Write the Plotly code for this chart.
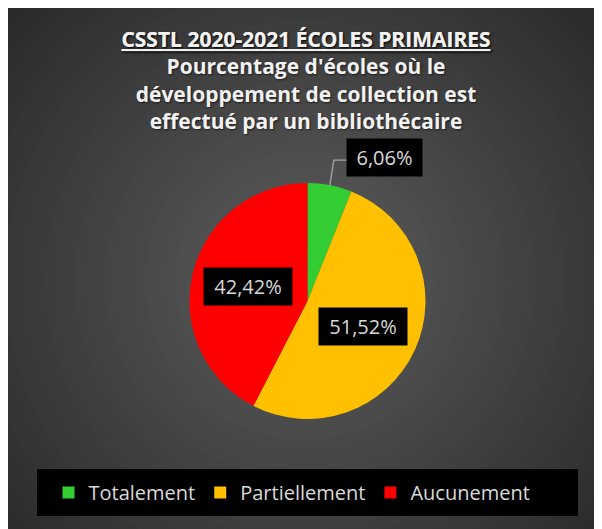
import math
import plotly.graph_objects as go

# data
labels = ['Totalement', 'Partiellement', 'Aucunement']
pourcentages = [6.06, 51.52, 42.42]
couleurs = ['#33CC33', '#FFC000', '#FF0000']
titre = ("<u>CSSTL 2020-2021 ÉCOLES PRIMAIRES</u><br>"
         "Pourcentage d'écoles où le<br>"
         "développement de collection est<br>"
         "effectué par un bibliothécaire")

# the page body has an 8px margin, so the figure fills what is left of the window
OFF = 8
W, H = 602 - OFF, 529 - OFF
CX, CY, R = 307.5, 301, 118  # pie centre / radius in window pixels


def px(x, y):
    '''window pixel coords (y down) -> paper coords'''
    return (x - OFF) / W, 1 - (y - OFF) / H


def fmt(v):
    return f"{v:.2f}".replace('.', ',') + '%'


fig = go.Figure()
d0 = px(CX - R, CY + R)
d1 = px(CX + R, CY - R)
fig.add_trace(go.Pie(
    labels=labels, values=pourcentages, sort=False, direction='clockwise',
    rotation=0, textinfo='none', hoverinfo='label+percent',
    marker=dict(colors=couleurs, line=dict(width=0)),
    domain=dict(x=[d0[0], d1[0]], y=[d0[1], d1[1]]),
))

shapes = []
# radial gradient of the chart area (stacked rings)
gx, gy = 305, 280
for i in range(40):
    rad = 400 - i * 10
    v = int(max(43, min(93, 95 - 0.13 * rad)))
    a0 = px(gx - rad, gy + rad)
    a1 = px(gx + rad, gy - rad)
    shapes.append(dict(type='circle', xref='paper', yref='paper', x0=a0[0], y0=a0[1],
                       x1=a1[0], y1=a1[1], fillcolor=f'rgb({v},{v},{v})', line_width=0,
                       layer='below'))
# legend box
l0 = px(37, 516)
l1 = px(578, 469)
shapes.append(dict(type='rect', xref='paper', yref='paper', x0=l0[0], y0=l0[1], x1=l1[0],
                   y1=l1[1], fillcolor='black', line_width=0, layer='below'))

# data labels on black boxes
annotations = []
cum = 0
for lab, v in zip(labels, pourcentages):
    mid = (cum + v / 2) / 100 * 2 * math.pi
    cum += v
    if v < 10:
        # outside label with elbow leader line
        p = (CX + R * math.sin(mid), CY - R * math.cos(mid))
        e = (p[0] + 4, p[1] - 25)
        f = (e[0] + 13, e[1])
        pp, pe, pf = px(*p), px(*e), px(*f)
        shapes.append(dict(type='path', xref='paper', yref='paper',
                           path=f"M{pp[0]},{pp[1]} L{pe[0]},{pe[1]} L{pf[0]},{pf[1]}",
                           line=dict(color='#A6A6A6', width=1.3), layer='above'))
        pos = px(f[0] + 37.5, e[1] - 3)
        w = 63
    else:
        pos = px(CX + 0.52 * R * math.sin(mid), CY - 0.52 * R * math.cos(mid))
        w = 76
    annotations.append(dict(x=pos[0], y=pos[1], xref='paper', yref='paper', text=fmt(v),
                            xanchor='center', yanchor='middle',
                            showarrow=False, bgcolor='black', borderpad=6, width=w, height=25,
                            font=dict(family='Open Sans', size=20, color='#D9D9D9')))

tpos = px(306, 47)
lpos = px(292, 492.5)
fig.update_layout(
    width=W, height=H, margin=dict(l=0, r=0, t=0, b=0),
    paper_bgcolor='#2b2b2b', plot_bgcolor='rgba(0,0,0,0)',
    title=dict(text=titre, x=tpos[0], xanchor='center', y=tpos[1], yanchor='top',
               font=dict(family='Open Sans', size=21, color='#F2F2F2', weight='bold',
                         shadow='1px 1px 2px rgba(0,0,0,0.6)')),
    legend=dict(orientation='h', x=lpos[0], xanchor='center', y=lpos[1],
                yanchor='middle', bgcolor='rgba(0,0,0,0)',
                font=dict(family='Open Sans', size=20, color='#D9D9D9')),
    shapes=shapes, annotations=annotations,
)

fig.write_html("out.html")
